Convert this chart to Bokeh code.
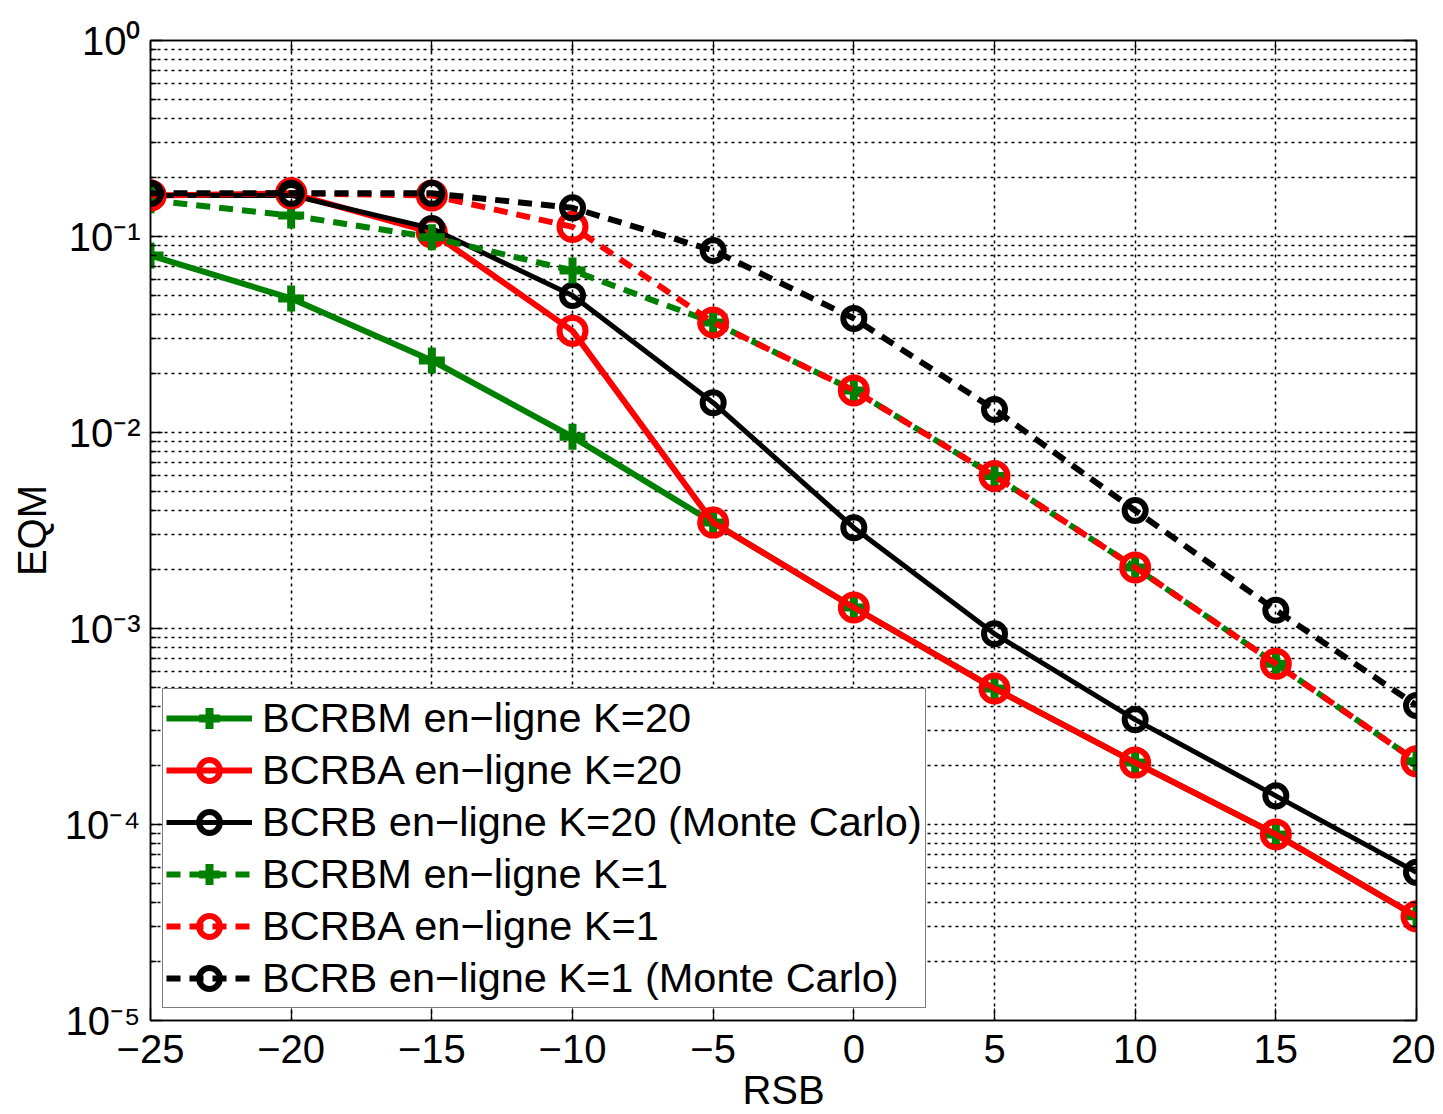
from bokeh.plotting import figure
from bokeh.models import (LogAxis, LinearAxis, FixedTicker, Legend, LegendItem,
                          CustomJSTickFormatter, Range1d)
from bokeh.embed import file_html
from bokeh.resources import INLINE

rsb = [-25, -20, -15, -10, -5, 0, 5, 10, 15, 20]

bcrbm_k20 = [0.080, 0.0483, 0.0233, 0.0095, 0.00347, 0.00128, 4.94e-4, 2.07e-4, 8.9e-5, 3.4e-5]
bcrba_k20 = [0.162, 0.166, 0.105, 0.033, 0.00347, 0.00128, 4.94e-4, 2.07e-4, 8.9e-5, 3.4e-5]
bcrb_k20 = [0.162, 0.162, 0.110, 0.050, 0.0142, 0.00327, 9.4e-4, 3.43e-4, 1.40e-4, 5.7e-5]
bcrbm_k1 = [0.153, 0.128, 0.099, 0.067, 0.0364, 0.0164, 0.0060, 0.00205, 6.6e-4, 2.1e-4]
bcrba_k1 = [0.162, 0.166, 0.162, 0.112, 0.0364, 0.0164, 0.0060, 0.00205, 6.6e-4, 2.1e-4]
bcrb_k1 = [0.166, 0.166, 0.166, 0.140, 0.0848, 0.0382, 0.0131, 0.0040, 0.00124, 4.05e-4]

labels = ["BCRBM en\u2212ligne K=20", "BCRBA en\u2212ligne K=20",
          "BCRB en\u2212ligne K=20 (Monte Carlo)", "BCRBM en\u2212ligne K=1",
          "BCRBA en\u2212ligne K=1", "BCRB en\u2212ligne K=1 (Monte Carlo)"]

x_ticks = [-25, -20, -15, -10, -5, 0, 5, 10, 15, 20]
y_ticks = [1e-5, 1e-4, 1e-3, 1e-2, 1e-1, 1e0]
y_minor = [k * 10.0 ** d for d in range(-5, 0) for k in range(2, 10)]

FONT = "Liberation Sans"

p = figure(frame_width=1266, frame_height=980, y_axis_type="log",
           x_range=Range1d(-25, 20), y_range=Range1d(1e-5, 1),
           output_backend="svg", toolbar_location=None,
           min_border_left=150, min_border_top=40, min_border_right=19, min_border_bottom=80)

p.outline_line_color = "black"
p.outline_line_width = 1.5
p.background_fill_color = "white"
p.border_fill_color = "white"

xfmt = CustomJSTickFormatter(code="return tick < 0 ? '\\u2212' + Math.abs(tick) : String(tick);")
yfmt = CustomJSTickFormatter(code="""
const e = Math.round(Math.log10(tick));
const sup = {'0':'\\u2070','1':'\\u00b9','2':'\\u00b2','3':'\\u00b3','4':'\\u2074','5':'\\u2075','-':'\\u207b'};
return '10' + String(e).split('').map(c => sup[c]).join('');
""")

xt = FixedTicker(ticks=x_ticks)
yt = FixedTicker(ticks=y_ticks, minor_ticks=y_minor)

for ax in [p.xaxis[0], p.yaxis[0]]:
    ax.axis_line_color = "black"
    ax.axis_line_width = 1.5
    ax.major_tick_in = 12
    ax.major_tick_out = 0
    ax.minor_tick_in = 6
    ax.minor_tick_out = 0
    ax.major_tick_line_width = 1.3
    ax.minor_tick_line_width = 1.3
    ax.major_label_text_font = FONT
    ax.major_label_text_font_size = "40px"
    ax.major_label_text_color = "black"
    ax.axis_label_text_font = FONT
    ax.axis_label_text_font_size = "40px"
    ax.axis_label_text_font_style = "normal"
    ax.axis_label_text_color = "black"

p.xaxis[0].ticker = xt
p.xaxis[0].formatter = xfmt
p.xaxis[0].axis_label = "RSB"
p.xaxis[0].major_label_standoff = 14
p.xaxis[0].axis_label_standoff = 2
p.yaxis[0].ticker = yt
p.yaxis[0].formatter = yfmt
p.yaxis[0].axis_label = "EQM"
p.yaxis[0].major_label_standoff = 10
p.yaxis[0].axis_label_standoff = 8

top = LinearAxis(ticker=FixedTicker(ticks=x_ticks), major_label_text_font_size="2px",
                 major_label_text_color=None,
                 major_tick_in=12, major_tick_out=0, major_label_standoff=0,
                 axis_line_color="black", axis_line_width=1.5, major_tick_line_width=1.3)
right = LogAxis(ticker=FixedTicker(ticks=y_ticks, minor_ticks=y_minor), major_label_text_font_size="2px",
                major_label_text_color=None,
                major_tick_in=12, major_tick_out=0, minor_tick_in=6, minor_tick_out=0,
                major_label_standoff=0, axis_line_color="black", axis_line_width=1.5,
                major_tick_line_width=1.3, minor_tick_line_width=1.3)
p.add_layout(top, "above")
p.add_layout(right, "right")

p.xgrid.ticker = xt
p.ygrid.ticker = yt
for g in [p.xgrid[0], p.ygrid[0]]:
    g.grid_line_color = "black"
    g.grid_line_width = 1.5
    g.grid_line_dash = "3 4"
p.ygrid[0].minor_grid_line_color = "black"
p.ygrid[0].minor_grid_line_width = 1.5
p.ygrid[0].minor_grid_line_dash = "3 4"

GREEN = "#008000"
RED = "#ff0000"
BLACK = "#000000"

series = [
    (bcrbm_k20, GREEN, "solid", "cross", 26, 8, 6),
    (bcrba_k20, RED, "solid", "circle", 26, 6, 6),
    (bcrb_k20, BLACK, "solid", "circle", 21, 6, 5),
    (bcrbm_k1, GREEN, "14 9", "cross", 26, 8, 6),
    (bcrba_k1, RED, "14 9", "circle", 26, 6, 6),
    (bcrb_k1, BLACK, "14 9", "circle", 21, 6, 6),
]

items = []
for i, (ys, col, dash, mk, sz, mlw, lw) in enumerate(series):
    ln = p.line(rsb, ys, line_color=col, line_width=lw, line_dash=dash)
    sc = p.scatter(rsb, ys, marker=mk, size=sz, line_color=col, line_width=mlw,
                   fill_color=None)
    items.append(LegendItem(label=labels[i], renderers=[ln, sc]))

legend = Legend(items=items, location="bottom_left", margin=12, padding=3, spacing=0,
                glyph_width=86, glyph_height=52, label_height=52, label_standoff=10,
                label_text_font=FONT, label_text_font_size="41.5px", label_text_color="black",
                border_line_color="black", border_line_width=1.5,
                background_fill_color="white", background_fill_alpha=1.0)
p.add_layout(legend, "center")

open("out.html", "w").write(file_html(p, INLINE))
